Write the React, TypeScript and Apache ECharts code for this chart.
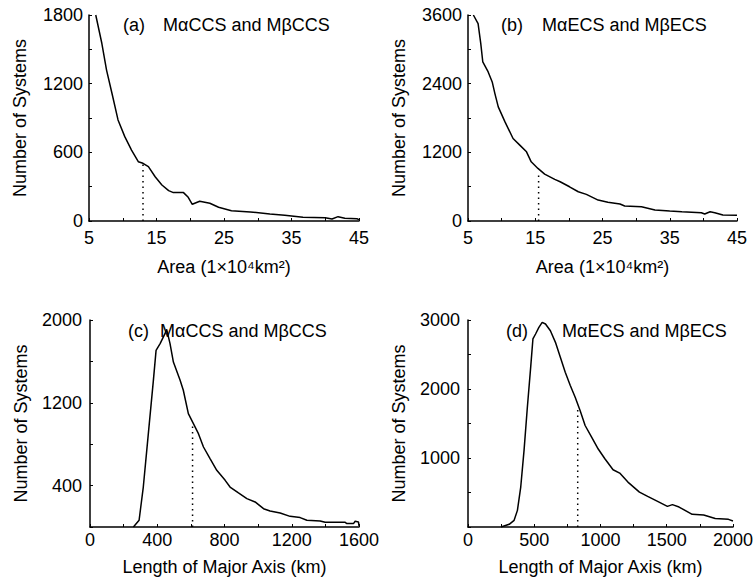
import React, { useEffect, useRef } from "react";
import * as echarts from "echarts";

const FONT = "'Liberation Sans', Arial, Helvetica, sans-serif";

// (a) Area, MαCCS and MβCCS
const areaCCS_x = [6.0, 6.9, 7.6, 8.4, 9.3, 10.3, 11.3, 12.3, 13.0, 13.8, 14.8, 15.8, 16.8, 17.5, 19.0, 19.7, 20.3, 21.4, 22.9, 24.2, 26.1, 28.9, 31.8, 34.0, 36.7, 40.0, 41.0, 41.9, 42.9, 44.7, 45];
const areaCCS_y = [1800, 1553, 1319, 1116, 883, 737, 620, 518, 504, 475, 387, 315, 265, 248, 248, 207, 146, 172, 155, 120, 90, 79, 61, 50, 32, 29, 17, 38, 24, 20, 12];

// (b) Area, MαECS and MβECS
const areaECS_x = [5.8, 6.5, 6.9, 7.2, 8.0, 8.6, 9.0, 9.5, 10.5, 11.7, 12.7, 13.7, 14.4, 15.4, 16.4, 17.9, 18.7, 20.1, 21.4, 22.6, 24.35, 25.8, 27.6, 28.3, 30.8, 32.8, 35.0, 36.8, 39.7, 40.2, 41.0, 41.7, 42.9, 45];
const areaECS_y = [3600, 3448, 3100, 2779, 2605, 2430, 2227, 1994, 1732, 1442, 1326, 1209, 1034, 919, 820, 727, 686, 598, 511, 465, 366, 326, 297, 262, 250, 192, 174, 162, 145, 122, 162, 145, 105, 100];

// (c) Length of major axis, MαCCS and MβCCS
const majorCCS_x = [258, 292, 317, 347, 377, 393, 417, 446, 456, 476, 496, 536, 555, 585, 615, 645, 675, 714, 754, 804, 833, 883, 933, 982, 1032, 1071, 1131, 1190, 1250, 1290, 1369, 1399, 1518, 1528, 1567, 1577, 1597, 1600];
const majorCCS_y = [0, 65, 386, 902, 1417, 1707, 1772, 1868, 1910, 1772, 1594, 1417, 1321, 1096, 999, 902, 773, 661, 548, 451, 386, 329, 274, 242, 177, 155, 135, 103, 91, 65, 58, 45, 45, 33, 33, 55, 48, 10];

// (d) Length of major axis, MαECS and MβECS
const majorECS_x = [249, 311, 348, 373, 398, 423, 448, 473, 490, 510, 535, 560, 585, 622, 660, 697, 734, 772, 809, 846, 884, 933, 983, 1033, 1095, 1145, 1207, 1294, 1356, 1431, 1505, 1543, 1593, 1692, 1779, 1866, 1966, 2000];
const majorECS_y = [0, 39, 97, 241, 579, 1110, 1736, 2314, 2725, 2797, 2893, 2965, 2942, 2845, 2676, 2459, 2242, 2050, 1880, 1688, 1471, 1302, 1130, 989, 830, 781, 651, 506, 444, 372, 299, 324, 289, 184, 174, 122, 111, 87];

// Dotted marker lines (x position, height)
const markerX = [13.0, 15.5, 610, 828];
const markerTop = [500, 860, 990, 1720];

const panelLabels = ["(a)", "(b)", "(c)", "(d)"];
const panelTitles = ["MαCCS and MβCCS", "MαECS and MβECS", "MαCCS and MβCCS", "MαECS and MβECS"];
const xNames = ["Area (1×10⁴km²)", "Area (1×10⁴km²)", "Length of Major Axis (km)", "Length of Major Axis (km)"];
const yName = "Number of Systems";

const zip = (xs: number[], ys: number[]) => xs.map((x, i) => [x, ys[i]]);

export default function App() {
  const ref = useRef<HTMLDivElement>(null);

  useEffect(() => {
    if (!ref.current) return;
    const chart = echarts.init(ref.current, null, { renderer: "svg" });

    const grids = [
      { left: 89, top: 15, width: 270, height: 206 },
      { left: 468, top: 15, width: 269, height: 206 },
      { left: 90, top: 320, width: 269, height: 207 },
      { left: 468, top: 320, width: 269, height: 207 },
    ];

    const xSpec = [
      { min: 5, max: 45, interval: 5, show: (v: number) => (v - 5) % 10 === 0 },
      { min: 5, max: 45, interval: 5, show: (v: number) => (v - 5) % 10 === 0 },
      { min: 0, max: 1600, interval: 200, show: (v: number) => v % 400 === 0 },
      { min: 0, max: 2000, interval: 250, show: (v: number) => v % 500 === 0 },
    ];
    const ySpec = [
      { min: 0, max: 1800, interval: 300, show: (v: number) => v % 600 === 0 },
      { min: 0, max: 3600, interval: 600, show: (v: number) => v % 1200 === 0 },
      { min: 0, max: 2000, interval: 400, show: (v: number) => v > 0 && (v - 400) % 800 === 0 },
      { min: 0, max: 3000, interval: 500, show: (v: number) => v > 0 && v % 1000 === 0 },
    ];

    const axisLine = { show: true, onZero: false, lineStyle: { color: "#000", width: 1.5 } };
    const axisTick = { show: true, inside: true, length: 3, lineStyle: { color: "#000", width: 1 } };

    const xAxis = xSpec.map((s, i) => ({
      type: "value",
      gridIndex: i,
      min: s.min,
      max: s.max,
      interval: s.interval,
      axisLine,
      axisTick,
      splitLine: { show: false },
      axisLabel: {
        color: "#000",
        fontSize: 18,
        fontFamily: FONT,
        margin: i < 2 ? 8 : 4,
        showMinLabel: true,
        showMaxLabel: true,
        formatter: (v: number) => (s.show(v) ? String(v) : ""),
      },
      name: xNames[i],
      nameLocation: "middle",
      nameGap: i < 2 ? 37 : 31,
      nameTextStyle: { color: "#000", fontSize: 18, fontFamily: FONT },
    }));

    const yAxis = ySpec.map((s, i) => ({
      type: "value",
      gridIndex: i,
      min: s.min,
      max: s.max,
      interval: s.interval,
      axisLine,
      axisTick,
      splitLine: { show: false },
      axisLabel: {
        color: "#000",
        fontSize: 18,
        fontFamily: FONT,
        margin: i < 2 ? 6 : 8,
        showMinLabel: true,
        showMaxLabel: true,
        formatter: (v: number) => (s.show(v) ? String(v) : ""),
      },
      name: yName,
      nameLocation: "middle",
      nameGap: 60,
      nameTextStyle: { color: "#000", fontSize: 18, fontFamily: FONT },
    }));

    const curves = [
      zip(areaCCS_x, areaCCS_y),
      zip(areaECS_x, areaECS_y),
      zip(majorCCS_x, majorCCS_y),
      zip(majorECS_x, majorECS_y),
    ];

    const series: any[] = [];
    curves.forEach((d, i) => {
      series.push({
        type: "line",
        xAxisIndex: i,
        yAxisIndex: i,
        data: d,
        symbol: "none",
        clip: true,
        lineStyle: { color: "#000", width: 1.5 },
      });
      series.push({
        type: "line",
        xAxisIndex: i,
        yAxisIndex: i,
        data: [
          [markerX[i], 0],
          [markerX[i], markerTop[i]],
        ],
        symbol: "none",
        lineStyle: { color: "#000", width: 1.5, type: [1.5, 4] },
      });
    });

    const labelPos = [
      { lx: 123, tx: 163, y: 25 },
      { lx: 501, tx: 542, y: 25 },
      { lx: 128, tx: 160, y: 331 },
      { lx: 506, tx: 562, y: 331 },
    ];
    const graphic: any[] = [];
    labelPos.forEach((p, i) => {
      graphic.push({
        type: "text",
        x: p.lx,
        y: p.y,
        style: { text: panelLabels[i], fill: "#000", fontSize: 18, fontFamily: FONT, verticalAlign: "middle" },
      });
      graphic.push({
        type: "text",
        x: p.tx,
        y: p.y,
        style: { text: panelTitles[i], fill: "#000", fontSize: 18, fontFamily: FONT, verticalAlign: "middle" },
      });
    });

    chart.setOption({
      animation: false,
      backgroundColor: "#fff",
      grid: grids,
      xAxis,
      yAxis,
      series,
      graphic,
    });

    return () => chart.dispose();
  }, []);

  return (
    <div
      ref={ref}
      style={{ position: "absolute", left: 0, top: 0, width: 756, height: 582, background: "#fff" }}
    />
  );
}
